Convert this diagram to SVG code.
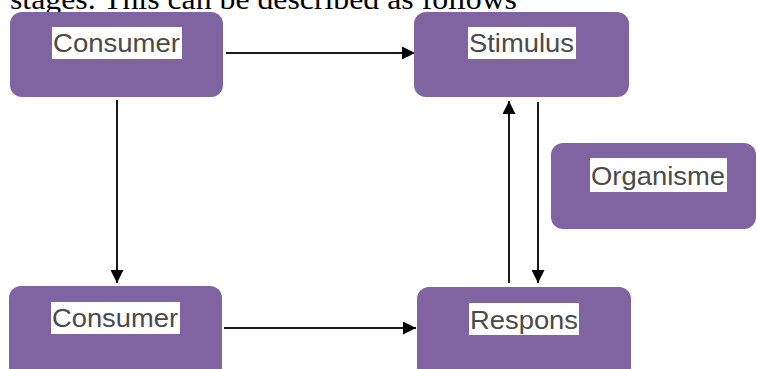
<svg xmlns="http://www.w3.org/2000/svg" width="757" height="369" viewBox="0 0 757 369">
<defs>
<style>
.box{fill:#8064a2;}
.lbl{fill:#ffffff;}
.txt{font-family:"Liberation Sans",Arial,sans-serif;font-size:25px;fill:#4a4a4a;}
.con{stroke:#1a1a1a;stroke-width:2;fill:none;marker-end:url(#ah);}
.cap{font-family:"Liberation Serif","Times New Roman",serif;font-size:29px;fill:#000;}
</style>
<marker id="ah" viewBox="0 0 12 12" refX="12" refY="6" markerWidth="6.5" markerHeight="6.5" orient="auto" markerUnits="strokeWidth">
<path d="M0,0 L12,6 L0,12 Z" fill="#000"/>
</marker>
</defs>
<rect width="757" height="369" fill="#ffffff"/>
<text class="cap" x="10" y="9" textLength="507" lengthAdjust="spacingAndGlyphs">stages. This can be described as follows</text>
<g id="connectors">
<line class="con" x1="226" y1="53" x2="415" y2="53"/>
<line class="con" x1="117" y1="100" x2="117" y2="283"/>
<line class="con" x1="224" y1="328" x2="416" y2="328"/>
<line class="con" x1="509" y1="283" x2="509" y2="101"/>
<line class="con" x1="538" y1="102" x2="538" y2="283"/>
</g>
<g id="consumer1">
<rect class="box" x="10" y="12" width="213" height="85" rx="12"/>
<rect class="lbl" x="52" y="27" width="130" height="32"/>
<text class="txt" x="53" y="51.500" textLength="127" lengthAdjust="spacingAndGlyphs">Consumer</text>
</g>
<g id="stimulus">
<rect class="box" x="414" y="12" width="215" height="85" rx="12"/>
<rect class="lbl" x="468" y="27" width="108" height="32"/>
<text class="txt" x="469" y="51.500" textLength="105" lengthAdjust="spacingAndGlyphs">Stimulus</text>
</g>
<g id="organisme">
<rect class="box" x="551" y="143" width="205" height="86" rx="12"/>
<rect class="lbl" x="590" y="158" width="137" height="34"/>
<text class="txt" x="591" y="185" textLength="134" lengthAdjust="spacingAndGlyphs">Organisme</text>
</g>
<g id="consumer2">
<rect class="box" x="9" y="286" width="213" height="95" rx="12"/>
<rect class="lbl" x="51" y="302" width="129" height="32"/>
<text class="txt" x="52" y="327" textLength="126" lengthAdjust="spacingAndGlyphs">Consumer</text>
</g>
<g id="respons">
<rect class="box" x="417" y="287" width="214" height="95" rx="12"/>
<rect class="lbl" x="469" y="303" width="110" height="32"/>
<text class="txt" x="470" y="329" textLength="108" lengthAdjust="spacingAndGlyphs">Respons</text>
</g>
</svg>
